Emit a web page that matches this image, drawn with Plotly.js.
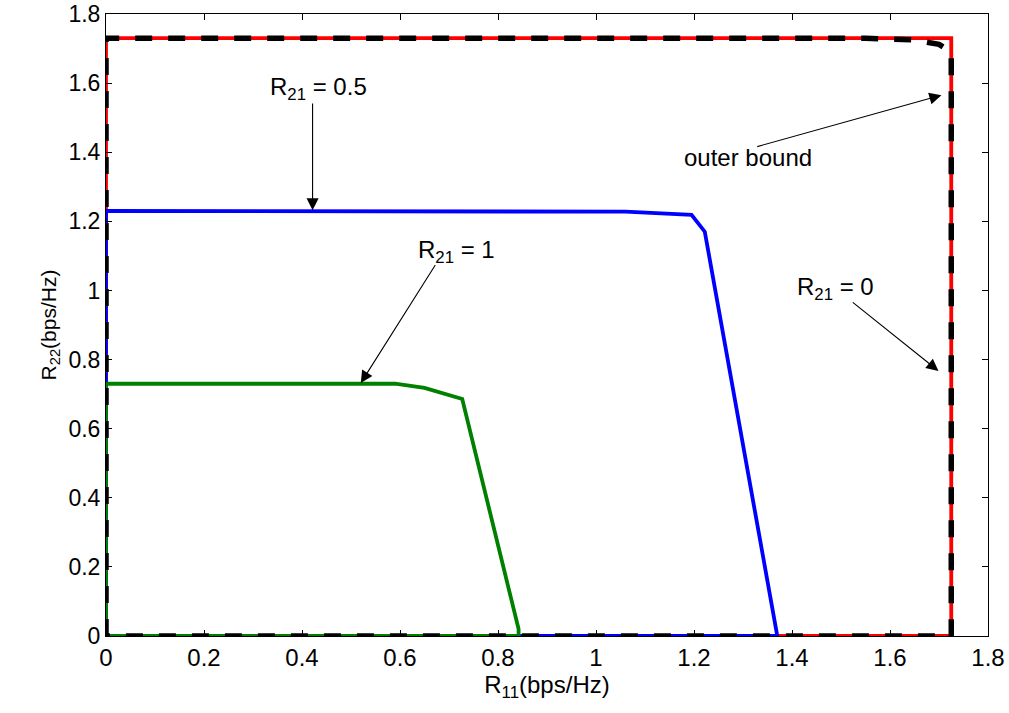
<!DOCTYPE html>
<html><head><meta charset="utf-8">
<script src="https://cdn.plot.ly/plotly-3.0.1.min.js"></script>
<style>html,body{margin:0;padding:0;background:#fff}</style>
</head><body>
<div id="chart" style="width:1009px;height:713px"></div>
<script>
// Outer bound (red solid)
const outerX = [0, 0, 1.725, 1.725, 0];
const outerY = [0, 1.73, 1.73, 0, 0];
// R21 = 0.5 (blue)
const halfX = [0, 0, 1.06, 1.195, 1.222, 1.37, 0];
const halfY = [0, 1.23, 1.228, 1.219, 1.17, 0, 0];
// R21 = 1 (green)
const oneX = [0, 0, 0.59, 0.65, 0.727, 0.842, 0.842, 0];
const oneY = [0, 0.73, 0.73, 0.718, 0.686, 0.02, 0, 0];
// R21 = 0 (black dashed)
const zeroX = [0, 0, 1.55, 1.65, 1.70, 1.725, 1.725, 0];
const zeroY = [0, 1.73, 1.73, 1.725, 1.712, 1.69, 0, 0];

const ticks = [0, 0.2, 0.4, 0.6, 0.8, 1, 1.2, 1.4, 1.6, 1.8];
const tickText = ["0", "0.2", "0.4", "0.6", "0.8", "1", "1.2", "1.4", "1.6", "1.8"];

const font = "'Liberation Sans', Arial, sans-serif";

const traces = [
  {x: outerX, y: outerY, mode: 'lines', line: {color: '#ff0000', width: 3.8}, cliponaxis: false},
  {x: halfX, y: halfY, mode: 'lines', line: {color: '#0000ff', width: 3.8}, cliponaxis: false},
  {x: oneX, y: oneY, mode: 'lines', line: {color: '#008000', width: 3.8}, cliponaxis: false},
  {x: zeroX, y: zeroY, mode: 'lines', line: {color: '#000000', width: 5.5, dash: '17px,16px'}, cliponaxis: false}
];

function arrow(x, y, ax, ay) {
  return {x: x, y: y, ax: ax, ay: ay, xref: 'x', yref: 'y', axref: 'x', ayref: 'y',
    text: '', showarrow: true, arrowhead: 2, arrowsize: 2.2, arrowwidth: 1.1, arrowcolor: '#000'};
}
function label(x, y, t) {
  return {x: x, y: y, xref: 'x', yref: 'y', text: t, showarrow: false,
    xanchor: 'center', yanchor: 'middle', font: {family: font, size: 24, color: '#000'}};
}

const layout = {
  width: 1009, height: 713,
  margin: {l: 106, r: 21, t: 14, b: 77},
  paper_bgcolor: '#fff', plot_bgcolor: '#fff',
  showlegend: false,
  font: {family: font, size: 24, color: '#000'},
  xaxis: {
    range: [0, 1.8], tickvals: ticks, ticktext: tickText,
    ticks: 'inside', ticklen: 6, tickcolor: '#000', showline: true, linecolor: '#000', linewidth: 1,
    mirror: 'ticks', showgrid: false, zeroline: false, ticklabeloverflow: 'allow',
    tickfont: {family: font, size: 24},
    title: {text: 'R<sub>11</sub>(bps/Hz)', font: {family: font, size: 24}, standoff: 2}
  },
  yaxis: {
    range: [0, 1.8], tickvals: ticks, ticktext: tickText,
    ticks: 'inside', ticklen: 6, tickcolor: '#000', showline: true, linecolor: '#000', linewidth: 1,
    mirror: 'ticks', showgrid: false, zeroline: false, ticklabeloverflow: 'allow',
    tickfont: {family: font, size: 23},
    title: {text: 'R<sub>22</sub>(bps/Hz)', font: {family: font, size: 21}, standoff: 6}
  },
  annotations: [
    label(0.434, 1.585, 'R<sub>21</sub> = 0.5'),
    arrow(0.4216, 1.232, 0.4216, 1.545),
    label(0.715, 1.113, 'R<sub>21</sub> = 1'),
    arrow(0.52, 0.732, 0.674, 1.078),
    label(1.31, 1.384, 'outer bound'),
    arrow(1.705, 1.565, 1.326, 1.415),
    label(1.489, 1.006, 'R<sub>21</sub> = 0'),
    arrow(1.699, 0.767, 1.521, 0.969)
  ]
};

Plotly.newPlot('chart', traces, layout, {displayModeBar: false, staticPlot: true});
</script>
</body></html>
